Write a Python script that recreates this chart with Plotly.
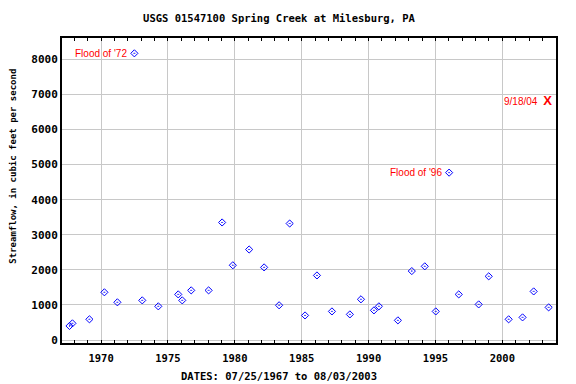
import plotly.graph_objects as go

# Annual peak streamflow (cfs)
years = [1967.64, 1967.86, 1969.13, 1970.25, 1971.22, 1972.49, 1973.08, 1974.28,
         1975.77, 1976.07, 1976.74, 1978.04, 1979.05, 1979.85, 1981.07, 1982.19,
         1983.31, 1984.10, 1985.25, 1986.14, 1987.26, 1988.60, 1989.43, 1990.40,
         1990.77, 1992.19, 1993.23, 1994.20, 1995.02, 1996.02, 1996.74, 1998.23,
         1998.98, 2000.47, 2001.51, 2002.34, 2003.46]
flows = [400, 475, 590, 1360, 1075, 8170, 1130, 960,
         1300, 1130, 1415, 1415, 3350, 2130, 2580, 2070,
         990, 3320, 700, 1840, 815, 730, 1160, 845,
         960, 560, 1965, 2100, 815, 4770, 1300, 1015,
         1815, 590, 645, 1385, 930]

# Special event 9/18/04
event_x = [2003.38]
event_y = [6790]
event_label = "9/18/04"

flood_labels = ["Flood of '72", "Flood of '96"]
flood_idx = [5, 29]

x_ticks = [1970, 1975, 1980, 1985, 1990, 1995, 2000]
y_ticks = [0, 1000, 2000, 3000, 4000, 5000, 6000, 7000, 8000]

fig = go.Figure()
fig.add_trace(go.Scatter(
    x=years, y=flows, mode="markers",
    marker=dict(symbol="diamond-open-dot", size=5.5, color="#0000ff",
                line=dict(width=1, color="#0000ff")),
    showlegend=False, hoverinfo="x+y"))
fig.add_trace(go.Scatter(
    x=event_x, y=event_y, mode="text", text=["<b>X</b>"],
    textfont=dict(family="Liberation Sans", size=13, color="#ff0000"),
    textposition="middle center", showlegend=False))

red_font = dict(family="Liberation Sans Narrow, Liberation Sans", size=10, color="#ff0000")
annotations = []
for lbl, i in zip(flood_labels, flood_idx):
    annotations.append(dict(x=years[i], y=flows[i], text=lbl, showarrow=False,
                            xanchor="right", yanchor="middle", xshift=-5,
                            font=red_font))
annotations.append(dict(x=event_x[0], y=event_y[0], text=event_label, showarrow=False,
                        xanchor="right", yanchor="middle", xshift=-8, font=red_font))

mono = "DejaVu Sans Mono"
annotations.append(dict(xref="paper", yref="paper", x=0.44, y=-0.108,
                        text="<b>DATES: 07/25/1967 to 08/03/2003</b>", showarrow=False,
                        xanchor="center", yanchor="middle",
                        font=dict(family=mono, size=10.5, color="black")))
annotations.append(dict(xref="paper", yref="paper", x=-0.098, y=0.58,
                        text="<b>Streamflow, in cubic feet per second</b>", showarrow=False,
                        textangle=-90, xanchor="center", yanchor="middle",
                        font=dict(family=mono, size=9, color="black")))

fig.update_layout(
    width=576, height=384,
    margin=dict(l=62, r=20, t=38, b=41, autoexpand=False),
    paper_bgcolor="white", plot_bgcolor="white",
    title=dict(text="<b>USGS 01547100 Spring Creek at Milesburg, PA</b>",
               x=279 / 576, xref="container", xanchor="center",
               y=1 - 18.5 / 384, yref="container", yanchor="middle",
               font=dict(family=mono, size=10.5, color="black")),
    annotations=annotations,
    xaxis=dict(range=[1967.08, 2004.01], tickvals=x_ticks,
               ticktext=["<b>%d</b>" % v for v in x_ticks],
               showgrid=True, gridcolor="#c8c8c8", gridwidth=1,
               showline=True, linecolor="black", linewidth=2, mirror="ticks",
               ticks="inside", ticklen=3, tickcolor="black",
               minor=dict(dtick=1, tick0=1967, ticks="inside", ticklen=3,
                          tickcolor="black", showgrid=False),
               zeroline=False,
               tickfont=dict(family=mono, size=10.5, color="black"),
               ticklabelstandoff=4),
    yaxis=dict(range=[-85, 8607], tickvals=y_ticks,
               ticktext=["<b>%d</b>" % v for v in y_ticks],
               showgrid=True, gridcolor="#c8c8c8", gridwidth=1,
               showline=True, linecolor="black", linewidth=2, mirror=True,
               ticks="", zeroline=False,
               tickfont=dict(family=mono, size=11, color="black")),
)

fig.write_html("out.html", config={"displayModeBar": False},
               post_script="document.body.style.margin='0';document.body.style.overflow='hidden';")
